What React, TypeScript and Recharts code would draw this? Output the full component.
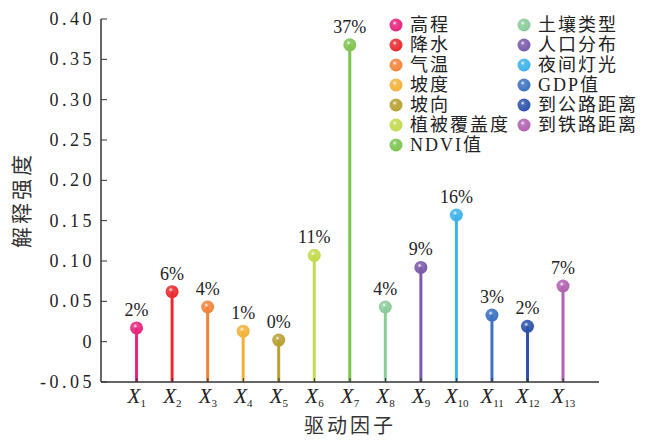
import React from 'react';
import { BarChart, Bar, XAxis, YAxis } from 'recharts';

const categories = ['X1', 'X2', 'X3', 'X4', 'X5', 'X6', 'X7', 'X8', 'X9', 'X10', 'X11', 'X12', 'X13'];
const values = [0.017, 0.062, 0.043, 0.013, 0.002, 0.107, 0.368, 0.043, 0.092, 0.157, 0.033, 0.019, 0.069];
const pctLabels = ['2%', '6%', '4%', '1%', '0%', '11%', '37%', '4%', '9%', '16%', '3%', '2%', '7%'];
const names = ['高程', '降水', '气温', '坡度', '坡向', '植被覆盖度', 'NDVI值', '土壤类型', '人口分布', '夜间灯光', 'GDP值', '到公路距离', '到铁路距离'];
const colors = ['#e8247c', '#ea2a2e', '#f2843a', '#f2b23a', '#b8a032', '#c2da4c', '#7dc452', '#8acc9a', '#7a5aaa', '#3cb2ea', '#3c72c2', '#2c52aa', '#b262b2'];
const yTicks = [-0.05, 0, 0.05, 0.1, 0.15, 0.2, 0.25, 0.3, 0.35, 0.4];
const yMin = -0.05;

const data = categories.map((c, i) => ({
  cat: c,
  range: [yMin, values[i]],
  label: pctLabels[i],
  color: colors[i],
  idx: i,
}));

const SERIF = '"Liberation Serif", "Times New Roman", serif';
const CJK = '"Noto Sans CJK SC", sans-serif';
const AXIS_Y = 382;
const AXIS_X = 101;

function Ball({ cx, cy, r, color, id }: { cx: number; cy: number; r: number; color: string; id: string }) {
  return (
    <g>
      <defs>
        <radialGradient id={id} cx="40%" cy="35%" r="65%">
          <stop offset="0%" stopColor="#ffffff" stopOpacity={0.95} />
          <stop offset="25%" stopColor={color} stopOpacity={0.85} />
          <stop offset="100%" stopColor={color} />
        </radialGradient>
      </defs>
      <circle cx={cx} cy={cy} r={r} fill={`url(#${id})`} />
    </g>
  );
}

const LollipopShape = (props: any) => {
  const { x, y, width, height, payload } = props;
  const cx = x + width / 2;
  const top = y;
  const bottom = y + height;
  return (
    <g>
      <line x1={cx} x2={cx} y1={bottom} y2={top} stroke={payload.color} strokeWidth={3} />
      <Ball cx={cx} cy={top} r={6.5} color={payload.color} id={`g${payload.idx}`} />
      <text x={cx} y={top - 12} textAnchor="middle" style={{ fontFamily: SERIF, fontSize: 18 }} fill="#222">
        {payload.label}
      </text>
    </g>
  );
};

const XTick = (props: any) => {
  const { x, payload } = props;
  const sub = String(payload.value).slice(1);
  return (
    <g>
      <line x1={x} x2={x} y1={AXIS_Y} y2={AXIS_Y - 4} stroke="#333" strokeWidth={1} />
      <text x={x} y={AXIS_Y + 21} textAnchor="middle" style={{ fontFamily: SERIF }} fill="#222">
        <tspan style={{ fontStyle: 'italic', fontSize: 21 }}>X</tspan>
        <tspan style={{ fontSize: 11 }} dy={4}>{sub}</tspan>
      </text>
    </g>
  );
};

const YTick = (props: any) => {
  const { y, payload } = props;
  const v = payload.value as number;
  const txt = Math.abs(v) < 1e-9 ? '0' : v.toFixed(2);
  return (
    <g>
      <line x1={AXIS_X} x2={AXIS_X + 6} y1={y} y2={y} stroke="#333" strokeWidth={1} />
      <text x={95} y={y + 6} textAnchor="end" style={{ fontFamily: SERIF, fontSize: 18, letterSpacing: 3.5 }} fill="#222">
        {txt}
      </text>
    </g>
  );
};

function Legend() {
  const col1 = names.slice(0, 7);
  const col2 = names.slice(7);
  const item = (n: string, i: number) => (
    <div key={n} style={{ display: 'flex', alignItems: 'center', height: 20 }}>
      <svg width={16} height={16} style={{ marginRight: 6 }}>
        <Ball cx={8} cy={8} r={6.5} color={colors[i]} id={`lg${i}`} />
      </svg>
      <span style={{ fontFamily: `${SERIF}, ${CJK}`, fontSize: 18, letterSpacing: 2, color: '#222', lineHeight: '20px' }}>{n}</span>
    </div>
  );
  return (
    <>
      <div style={{ position: 'absolute', left: 388, top: 15 }}>{col1.map((n, i) => item(n, i))}</div>
      <div style={{ position: 'absolute', left: 516, top: 15 }}>{col2.map((n, i) => item(n, i + 7))}</div>
    </>
  );
}

export default function App() {
  return (
    <div style={{ position: 'fixed', left: 0, top: 0, width: 656, height: 440, background: '#fff' }}>
      <BarChart width={656} height={440} data={data} margin={{ top: 19, right: 57, bottom: 0, left: 0 }}>
        <XAxis
          dataKey="cat"
          height={58}
          padding={{ left: 18, right: 18 }}
          tick={<XTick />}
          tickLine={false}
          axisLine={{ stroke: '#333', strokeWidth: 1.5 }}
          interval={0}
          label={{
            content: () => (
              <text x={350} y={433} textAnchor="middle" style={{ fontFamily: CJK, fontSize: 20, letterSpacing: 3 }} fill="#333">
                驱动因子
              </text>
            ),
          }}
        />
        <YAxis
          type="number"
          domain={[-0.05, 0.4]}
          ticks={yTicks}
          width={101}
          tick={<YTick />}
          tickLine={false}
          axisLine={{ stroke: '#333', strokeWidth: 1.5 }}
          interval={0}
          allowDataOverflow
          label={{
            content: () => (
              <text
                x={29}
                y={200}
                textAnchor="middle"
                style={{ fontFamily: CJK, fontSize: 21, letterSpacing: 3 }}
                fill="#333"
                transform="rotate(-90 29 200)"
              >
                解释强度
              </text>
            ),
          }}
        />
        <Bar dataKey="range" shape={<LollipopShape />} isAnimationActive={false} />
      </BarChart>
      <Legend />
    </div>
  );
}
